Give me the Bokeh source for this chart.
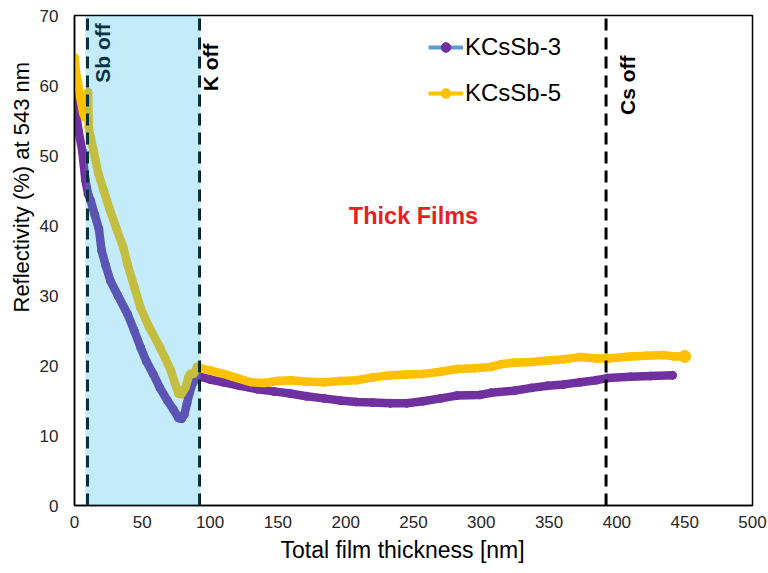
import math

from bokeh.core.properties import value
from bokeh.embed import file_html
from bokeh.models import BoxAnnotation, FixedTicker, Legend, LegendItem, Range1d, Title
from bokeh.plotting import figure
from bokeh.resources import INLINE

# Reflectivity at 543 nm vs. total deposited thickness, two KCsSb growths
kcssb3_x = [0, 0.5, 1.2, 3, 5.7, 8, 10, 12, 15, 18, 20, 23, 26.5, 32, 39, 44, 48.7,
            53, 58, 63, 68.5, 73, 76.7, 79, 81, 83, 85, 87, 89, 90.5, 92, 93,
            100, 110, 122, 135, 147, 159, 171, 184, 196, 208, 220, 233, 245, 257,
            270, 282, 299, 307, 324, 337, 349, 361, 373, 385, 393, 410, 425, 441]
kcssb3_y = [61, 59, 56, 53.5, 50.7, 46.5, 44.5, 43.5, 41.5, 39.5, 36.4, 34.3, 32.1,
            30, 27.4, 25, 22.6, 20.6, 18.8, 16.8, 15, 13.7, 12.5, 12.4, 13, 14.6,
            16.2, 17.4, 17.9, 18.1, 18.3, 18.4,
            18, 17.6, 17.1, 16.6, 16.3, 16, 15.6, 15.3, 15, 14.8, 14.7, 14.6, 14.6,
            14.9, 15.3, 15.7, 15.8, 16.1, 16.4, 16.8, 17.1, 17.3, 17.6, 17.9, 18.2,
            18.4, 18.5, 18.6]

kcssb5_x = [0, 1, 2.5, 4, 5.5, 6.4, 7.5, 10, 10.5, 12, 14, 17.5, 21.5, 26, 31, 36,
            39, 44, 48.6, 55, 63, 67, 71, 74, 76.7, 79, 82, 84, 85.5, 88, 90.5, 92, 93,
            100, 110, 120, 130, 140, 150, 159, 170, 184, 196, 208, 220, 233, 245,
            257, 270, 282, 295, 307, 315, 324, 337, 349, 361, 373, 385, 393, 410,
            422, 434, 442, 450]
kcssb5_y = [64, 62, 60.5, 58.5, 57, 56, 55.5, 59, 54, 52.5, 50.7, 47.5, 45, 42.3,
            39.5, 36.9, 34.5, 31.3, 28.3, 25.5, 22.6, 21, 19.3, 17.5, 16, 15.9,
            16.9, 18.3, 18.8, 18.8, 19.8, 19.7, 19.6,
            19.3, 18.8, 18.2, 17.6, 17.5, 17.8, 17.9, 17.7, 17.6, 17.8, 17.9, 18.3,
            18.6, 18.7, 18.8, 19.1, 19.5, 19.6, 19.8, 20.2, 20.4, 20.5, 20.7, 20.9,
            21.2, 21.0, 21.0, 21.3, 21.4, 21.5, 21.3, 21.3]

# Source shutter events (thickness in nm)
event_labels = ["Sb off", "K off", "Cs off"]
event_x = [9.6, 92.2, 392]
sb_window = [8, 93]

x_ticks = [0, 50, 100, 150, 200, 250, 300, 350, 400, 450, 500]
y_ticks = [0, 10, 20, 30, 40, 50, 60, 70]

PURPLE = "#7030A0"
GOLD = "#FFC000"
LEGEND_BLUE = "#5B9BD5"
FONT = "Liberation Sans"

p = figure(
    frame_width=678, frame_height=490,
    min_border_left=74, min_border_right=16, min_border_top=15, min_border_bottom=68,
    x_range=Range1d(0, 500), y_range=Range1d(0, 70),
    output_backend="svg", toolbar_location=None,
)
p.xgrid.visible = False
p.ygrid.visible = False
p.outline_line_color = "black"
p.outline_line_width = 1.5
p.background_fill_color = "white"
p.border_fill_color = "white"

for ax in (p.xaxis[0], p.yaxis[0]):
    ax.major_tick_line_color = None
    ax.minor_tick_line_color = None
    ax.major_tick_out = 0
    ax.major_tick_in = 0
    ax.minor_tick_out = 0
    ax.minor_tick_in = 0
    ax.axis_line_color = "black"
    ax.axis_line_width = 1.5
    ax.major_label_text_font = FONT
    ax.major_label_text_font_size = "17px"
    ax.major_label_text_color = "#262626"

p.xaxis.ticker = FixedTicker(ticks=x_ticks)
p.yaxis.ticker = FixedTicker(ticks=y_ticks)
p.xaxis.major_label_standoff = 10
p.yaxis.major_label_standoff = 16

# axis titles, anchored at their starting end
p.add_layout(Title(text="Total film thickness [nm]", align="left", offset=206,
                   standoff=9, text_font=FONT, text_font_style="normal",
                   text_font_size="23px", text_color="black"), "below")
p.add_layout(Title(text="Reflectivity (%)  at 543 nm", align="left", offset=193,
                   standoff=6, text_font=FONT, text_font_style="normal",
                   text_font_size="22px", text_color="black"), "left")

# legend swatches (kept beneath the thick series lines so only the legend shows them)
l3 = p.line(kcssb3_x, kcssb3_y, line_color=LEGEND_BLUE, line_width=4)
m3 = p.scatter(kcssb3_x, kcssb3_y, size=8, color=PURPLE)
l5 = p.line(kcssb5_x, kcssb5_y, line_color=GOLD, line_width=4)
m5 = p.scatter(kcssb5_x, kcssb5_y, size=8, color=GOLD)

# measured curves
p.line(kcssb3_x, kcssb3_y, line_color=PURPLE, line_width=8.5,
       line_join="round", line_cap="round")
p.line(kcssb5_x, kcssb5_y, line_color=GOLD, line_width=8.5,
       line_join="round", line_cap="round")
p.scatter([kcssb5_x[-1]], [kcssb5_y[-1]], size=12, color=GOLD)

# shutter markers
for ex in event_x:
    p.line([ex, ex], [0, 70], line_color="black", line_width=3, line_dash="12 7")

label_x = [20.6, 100, 408]
label_top = [68.9, 66, 64.3]
p.text(label_x, label_top, text=event_labels, angle=math.pi / 2,
       text_align="right", text_baseline="middle",
       text_font=value(FONT), text_font_style="bold", text_font_size="21px",
       text_color="black")

p.text([250], [41.4], text=["Thick Films"], text_align="center",
       text_baseline="middle", text_font=value(FONT), text_font_style="bold",
       text_font_size="23.5px", text_color="#EA1C24")

# Sb deposition window, tinted over everything beneath it
p.add_layout(BoxAnnotation(left=sb_window[0], right=sb_window[1],
                           fill_color="#21B5EC", fill_alpha=0.27, line_alpha=0))

legend = Legend(
    items=[LegendItem(label="KCsSb-3", renderers=[l3, m3]),
           LegendItem(label="KCsSb-5", renderers=[l5, m5])],
    location=(354, 398), orientation="vertical",
    label_text_font=FONT, label_text_font_size="24px", label_text_color="black",
    glyph_width=35, glyph_height=24, label_height=24, label_standoff=2,
    spacing=18, padding=0, margin=0,
    border_line_alpha=0, background_fill_alpha=0,
)
p.add_layout(legend, "center")

with open("out.html", "w") as f:
    f.write(file_html(p, INLINE))
